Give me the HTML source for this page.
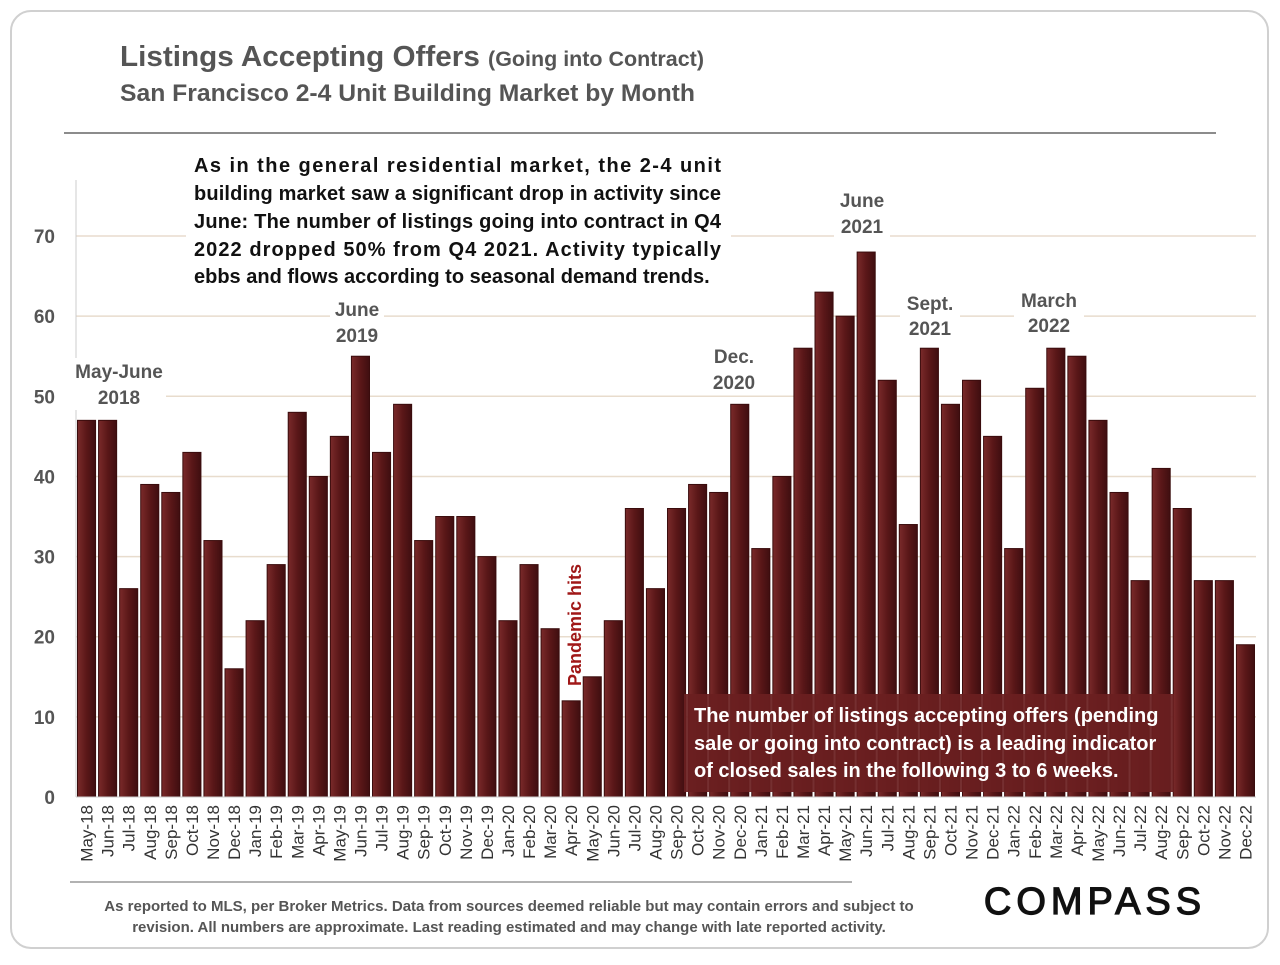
<!DOCTYPE html>
<html><head><meta charset="utf-8"><style>
body{margin:0;background:#fff;font-family:"Liberation Sans",sans-serif;}
</style></head><body>
<svg width="1280" height="960" xmlns="http://www.w3.org/2000/svg" font-family="Liberation Sans, sans-serif">
<defs><linearGradient id="bg" x1="0" x2="1" y1="0" y2="0"><stop offset="0" stop-color="#7a2a2a"/><stop offset="0.5" stop-color="#5a1718"/><stop offset="1" stop-color="#3f0e10"/></linearGradient></defs>
<rect x="11" y="11" width="1257" height="937" rx="20" fill="#fff" stroke="#d0d0d0" stroke-width="2"/>
<text x="120" y="66" font-size="29" font-weight="bold" fill="#555" textLength="584" lengthAdjust="spacingAndGlyphs">Listings Accepting Offers <tspan font-size="21">(Going into Contract)</tspan></text>
<text x="120" y="101" font-size="24" font-weight="bold" fill="#555" textLength="575" lengthAdjust="spacingAndGlyphs">San Francisco 2-4 Unit Building Market by Month</text>
<line x1="64" y1="133" x2="1216" y2="133" stroke="#666" stroke-width="1.5"/>
<g id="grid"></g>
<g id="bars"></g>
<g id="xlabels"></g>
<line x1="76" y1="180" x2="76" y2="797" stroke="#ccc"/>
<line x1="76" y1="797" x2="1256" y2="797" stroke="#ccc"/>
<rect x="186" y="150" width="545" height="140" fill="#fff"/>
<g font-size="20" font-weight="bold" fill="#111">
<text x="194" y="172" textLength="527" lengthAdjust="spacing">As in the general residential market, the 2-4 unit</text>
<text x="194" y="200" textLength="527" lengthAdjust="spacing">building market saw a significant drop in activity since</text>
<text x="194" y="228" textLength="527" lengthAdjust="spacing">June: The number of listings going into contract in Q4</text>
<text x="194" y="256" textLength="527" lengthAdjust="spacing">2022 dropped 50% from Q4 2021. Activity typically</text>
<text x="194" y="283">ebbs and flows according to seasonal demand trends.</text>
</g>
<g font-size="19" font-weight="bold" fill="#555" text-anchor="middle">
<rect x="72" y="358" width="94" height="52" fill="#fff"/>
<text x="119" y="378">May-June</text><text x="119" y="404">2018</text>
<rect x="330" y="296" width="54" height="52" fill="#fff"/>
<text x="357" y="316">June</text><text x="357" y="342">2019</text>
<rect x="706" y="343" width="56" height="52" fill="#fff"/>
<text x="734" y="363">Dec.</text><text x="734" y="389">2020</text>
<rect x="834" y="187" width="56" height="52" fill="#fff"/>
<text x="862" y="207">June</text><text x="862" y="233">2021</text>
<rect x="900" y="290" width="60" height="52" fill="#fff"/>
<text x="930" y="310">Sept.</text><text x="930" y="335">2021</text>
<rect x="1014" y="287" width="70" height="52" fill="#fff"/>
<text x="1049" y="307">March</text><text x="1049" y="332">2022</text>
</g>
<text transform="translate(581,686) rotate(-90)" font-size="18" font-weight="bold" fill="#a01818">Pandemic hits</text>
<rect x="684" y="694" width="490" height="98" fill="#6b1f20" opacity="0.93"/>
<g font-size="20" font-weight="bold" fill="#fff">
<text x="694" y="722">The number of listings accepting offers (pending</text>
<text x="694" y="750">sale or going into contract) is a leading indicator</text>
<text x="694" y="777">of closed sales in the following 3 to 6 weeks.</text>
</g>
<line x1="70" y1="882" x2="852" y2="882" stroke="#666"/>
<g font-size="15" font-weight="bold" fill="#555" text-anchor="middle">
<text x="509" y="911">As reported to MLS, per Broker Metrics. Data from sources deemed reliable but may contain errors and subject to</text>
<text x="509" y="932">revision. All numbers are approximate.  Last reading estimated and may change with late reported activity.</text>
</g>
<text x="1095" y="914" font-size="38" fill="#111" stroke="#111" stroke-width="1.2" text-anchor="middle" letter-spacing="5">COMPASS</text>
</svg>
<script>
const categories=["May-18","Jun-18","Jul-18","Aug-18","Sep-18","Oct-18","Nov-18","Dec-18","Jan-19","Feb-19","Mar-19","Apr-19","May-19","Jun-19","Jul-19","Aug-19","Sep-19","Oct-19","Nov-19","Dec-19","Jan-20","Feb-20","Mar-20","Apr-20","May-20","Jun-20","Jul-20","Aug-20","Sep-20","Oct-20","Nov-20","Dec-20","Jan-21","Feb-21","Mar-21","Apr-21","May-21","Jun-21","Jul-21","Aug-21","Sep-21","Oct-21","Nov-21","Dec-21","Jan-22","Feb-22","Mar-22","Apr-22","May-22","Jun-22","Jul-22","Aug-22","Sep-22","Oct-22","Nov-22","Dec-22"];
const values=[47,47,26,39,38,43,32,16,22,29,48,40,45,55,43,49,32,35,35,30,22,29,21,12,15,22,36,26,36,39,38,49,31,40,56,63,60,68,52,34,56,49,52,45,31,51,56,55,47,38,27,41,36,27,27,19];
const yTicks=[0,10,20,30,40,50,60,70];
const NS="http://www.w3.org/2000/svg";
const x0=76,x1=1256,y0=797,pxPer=8.014;
const step=(x1-x0)/categories.length;
const yS=v=>y0-v*pxPer;
const xS=i=>x0+i*step;
const grid=document.getElementById('grid'),bars=document.getElementById('bars'),xl=document.getElementById('xlabels');
yTicks.forEach(t=>{
 if(t>0){const l=document.createElementNS(NS,'line');
 
 
 l.setAttribute('x1',x0);l.setAttribute('x2',x1);l.setAttribute('y1',yS(t));l.setAttribute('y2',yS(t));l.setAttribute('stroke','#e8dccd');l.setAttribute('stroke-width','1.5');grid.appendChild(l);}
 const tx=document.createElementNS(NS,'text');
 
 
 tx.setAttribute('x',55);tx.setAttribute('y',yS(t)+7);tx.setAttribute('text-anchor','end');tx.setAttribute('font-size','19');tx.setAttribute('font-weight','bold');tx.setAttribute('fill','#555');tx.textContent=t;grid.appendChild(tx);
});
categories.forEach((c,i)=>{
 const r=document.createElementNS(NS,'rect');
 
 
 r.setAttribute('x',xS(i)+1.5);r.setAttribute('width',step-3);r.setAttribute('y',yS(values[i]));r.setAttribute('height',values[i]*pxPer);
 r.setAttribute('fill','url(#bg)');r.setAttribute('stroke','#3a0c0d');r.setAttribute('stroke-width','1');bars.appendChild(r);
 const t=document.createElementNS(NS,'text');
 
 
 const cx=xS(i)+step/2+6;
 t.setAttribute('transform','translate('+cx+',805) rotate(-90)');t.setAttribute('text-anchor','end');t.setAttribute('font-size','17');t.setAttribute('fill','#333');t.textContent=c;xl.appendChild(t);
});
</script>
</body></html>
